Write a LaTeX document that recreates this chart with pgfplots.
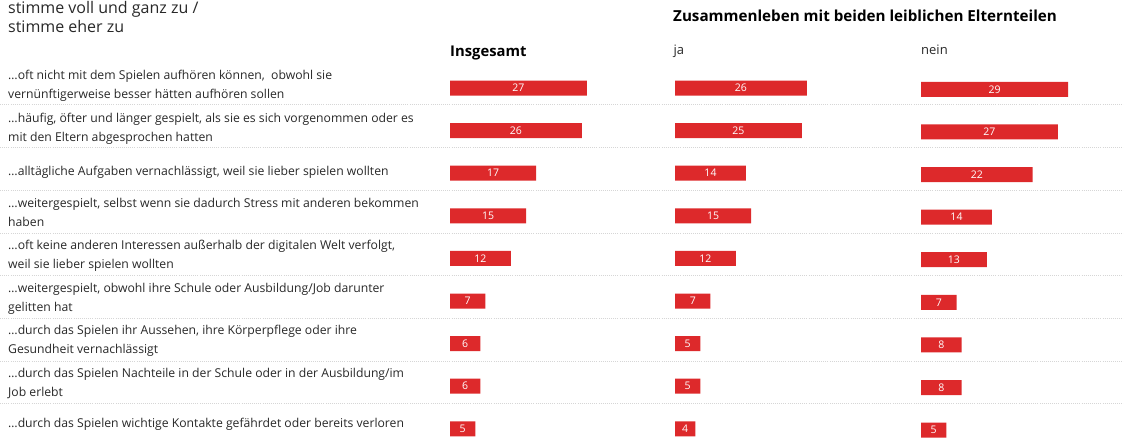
\documentclass[border=0pt]{standalone}
\usepackage{pgfplots}
\usepackage{pgfplotstable}
\pgfplotsset{compat=1.18}
\usepackage{fontspec}
\setmainfont{Open Sans}
\definecolor{barred}{RGB}{221,41,43}
\definecolor{txt}{RGB}{40,40,40}

\pgfplotstableread{
row v
0 27
1 26
2 17
3 15
4 12
5 7
6 6
7 6
8 5
}\insg
\pgfplotstableread{
row v
0 26
1 25
2 14
3 15
4 12
5 7
6 5
7 5
8 4
}\ja
\pgfplotstableread{
row v
0 29
1 27
2 22
3 14
4 13
5 7
6 8
7 8
8 5
}\nein

\pgfplotsset{panel/.style={
  anchor=north west, scale only axis, width=152.1pt, height=383.4pt,
  xmin=0, xmax=30, ymin=-0.5, ymax=8.5, y dir=reverse,
  hide axis, clip=false,
  /pgf/number format/assume math mode=true}}

\tikzset{rowlbl/.style={anchor=base west, text=txt, inner sep=0pt,
  font=\fontsize{12.2}{15}\selectfont}}
\newcommand\lbl[2]{\node[rowlbl] at (8,439-#1) {#2};}

\begin{document}
\begin{tikzpicture}[x=1pt,y=1pt]
\path[use as bounding box] (0,0) rectangle (1124,439);

% separators
\foreach \py in {104.3,147.7,190.7,233.3,275.7,318.3,361,403.3}
  \draw[black!16, line width=0.8pt, dash pattern=on 0.9pt off 1.2pt] (0,439-\py) -- (1124,439-\py);

% panels
\begin{axis}[panel, at={(450pt,372.3pt)}]
\addplot[xbar, bar width=15pt, fill=barred, draw=none] table[x=v,y=row]{\insg};
\addplot[draw=none, mark=none, nodes near coords, point meta=explicit,
  every node near coord/.style={anchor=center, text=white, font=\fontsize{10.5}{10}\selectfont}]
  table[x expr=\thisrow{v}/2, y=row, meta=v]{\insg};
\end{axis}
\begin{axis}[panel, at={(675pt,372.3pt)}]
\addplot[xbar, bar width=15pt, fill=barred, draw=none] table[x=v,y=row]{\ja};
\addplot[draw=none, mark=none, nodes near coords, point meta=explicit,
  every node near coord/.style={anchor=center, text=white, font=\fontsize{10.5}{10}\selectfont}]
  table[x expr=\thisrow{v}/2, y=row, meta=v]{\ja};
\end{axis}
\begin{axis}[panel, at={(921pt,371pt)}]
\addplot[xbar, bar width=15pt, fill=barred, draw=none] table[x=v,y=row]{\nein};
\addplot[draw=none, mark=none, nodes near coords, point meta=explicit,
  every node near coord/.style={anchor=center, text=white, font=\fontsize{10.5}{10}\selectfont}]
  table[x expr=\thisrow{v}/2, y=row, meta=v]{\nein};
\end{axis}

% headers
\node[anchor=base west, text=txt, inner sep=0pt, font=\fontsize{16}{19}\selectfont] at (8,439-14) {stimme voll und ganz zu /};
\node[anchor=base west, text=txt, inner sep=0pt, font=\fontsize{16}{19}\selectfont] at (8,439-32.3) {stimme eher zu};
\node[anchor=base west, inner sep=0pt, font=\fontsize{14.8}{16}\selectfont\bfseries] at (450,439-57) {Insgesamt};
\node[anchor=base west, inner sep=0pt, font=\fontsize{15.2}{16}\selectfont\bfseries] at (673,439-21.7) {Zusammenleben mit beiden leiblichen Elternteilen};
\node[anchor=base west, inner sep=0pt, text=txt, font=\fontsize{13}{14}\selectfont] at (673.5,439-55) {ja};
\node[anchor=base west, inner sep=0pt, text=txt, font=\fontsize{13}{14}\selectfont] at (921,439-55) {nein};

% row labels
\lbl{79.5}{…oft nicht mit dem Spielen aufhören können,\ \ obwohl sie}
\lbl{98.5}{vernünftigerweise besser hätten aufhören sollen}
\lbl{122.5}{…häufig, öfter und länger gespielt, als sie es sich vorgenommen oder es}
\lbl{141.5}{mit den Eltern abgesprochen hatten}
\lbl{176}{…alltägliche Aufgaben vernachlässigt, weil sie lieber spielen wollten}
\lbl{207.5}{…weitergespielt, selbst wenn sie dadurch Stress mit anderen bekommen}
\lbl{226.5}{haben}
\lbl{249.5}{…oft keine anderen Interessen außerhalb der digitalen Welt verfolgt,}
\lbl{268.5}{weil sie lieber spielen wollten}
\lbl{292.5}{…weitergespielt, obwohl ihre Schule oder Ausbildung/Job darunter}
\lbl{311.5}{gelitten hat}
\lbl{334.5}{…durch das Spielen ihr Aussehen, ihre Körperpflege oder ihre}
\lbl{353.5}{Gesundheit vernachlässigt}
\lbl{377.5}{…durch das Spielen Nachteile in der Schule oder in der Ausbildung/im}
\lbl{396.5}{Job erlebt}
\lbl{427.5}{…durch das Spielen wichtige Kontakte gefährdet oder bereits verloren}
\end{tikzpicture}
\end{document}
